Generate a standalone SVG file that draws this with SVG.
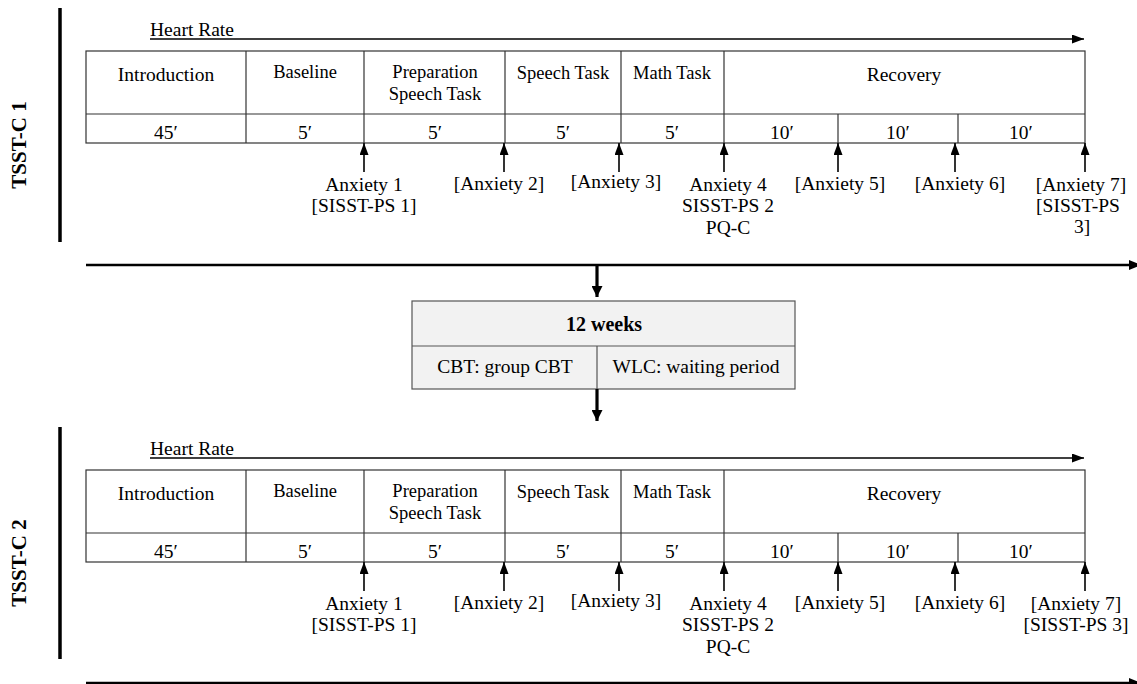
<svg xmlns="http://www.w3.org/2000/svg" width="1137" height="684" viewBox="0 0 1137 684">
<defs>
<style>
text{font-family:"Liberation Serif","Times New Roman",serif;fill:#000}
.l{font-size:19.5px}
.h{font-size:18.5px}
.t{text-anchor:middle}
.cell{fill:#fff;stroke:#333;stroke-width:1.2}
.div{stroke:#333;stroke-width:1.2}
.up{stroke:#000;stroke-width:1.6;marker-end:url(#ua)}
.hr{stroke:#000;stroke-width:1.4;fill:none;marker-end:url(#ha)}
.bar{stroke:#000;stroke-width:3.5}
.long{stroke:#000;stroke-width:2.5;marker-end:url(#la)}
.down{stroke:#000;stroke-width:3.2;marker-end:url(#da)}
.side{font-size:21px;font-weight:bold}
</style>
<marker id="ua" viewBox="0 0 10 10" refX="10" refY="5" markerWidth="12" markerHeight="9" orient="auto" markerUnits="userSpaceOnUse" preserveAspectRatio="none"><path d="M0,0L10,5L0,10z" fill="#000"/></marker>
<marker id="ha" viewBox="0 0 10 10" refX="10" refY="5" markerWidth="12" markerHeight="9" orient="auto" markerUnits="userSpaceOnUse" preserveAspectRatio="none"><path d="M0,0L10,5L0,10z" fill="#000"/></marker>
<marker id="la" viewBox="0 0 10 10" refX="10" refY="5" markerWidth="12" markerHeight="10" orient="auto" markerUnits="userSpaceOnUse" preserveAspectRatio="none"><path d="M0,0L10,5L0,10z" fill="#000"/></marker>
<marker id="da" viewBox="0 0 10 10" refX="10" refY="5" markerWidth="11" markerHeight="11" orient="auto" markerUnits="userSpaceOnUse" preserveAspectRatio="none"><path d="M0,0L10,5L0,10z" fill="#000"/></marker>
<g id="session">
<rect class="cell" x="86" y="51" width="999" height="92"/>
<line class="div" x1="86" y1="114" x2="1085" y2="114"/>
<line class="div" x1="246" y1="51" x2="246" y2="143"/>
<line class="div" x1="364" y1="51" x2="364" y2="143"/>
<line class="div" x1="505" y1="51" x2="505" y2="143"/>
<line class="div" x1="621" y1="51" x2="621" y2="143"/>
<line class="div" x1="724" y1="51" x2="724" y2="143"/>
<line class="div" x1="838" y1="114" x2="838" y2="143"/>
<line class="div" x1="958" y1="114" x2="958" y2="143"/>
<text class="l" x="150" y="36">Heart Rate</text>
<line class="hr" x1="150" y1="39" x2="1084" y2="39"/>
<text class="l t" x="166" y="81">Introduction</text>
<text class="h t" x="305" y="78">Baseline</text>
<text class="h t" x="435" y="78">Preparation</text>
<text class="h t" x="435" y="100">Speech Task</text>
<text class="h t" x="563" y="79">Speech Task</text>
<text class="h t" x="672" y="79">Math Task</text>
<text class="l t" x="904" y="81">Recovery</text>
<text class="l t" x="166" y="139">45′</text>
<text class="l t" x="305" y="139">5′</text>
<text class="l t" x="435" y="139">5′</text>
<text class="l t" x="563" y="139">5′</text>
<text class="l t" x="672" y="139">5′</text>
<text class="l t" x="782" y="139">10′</text>
<text class="l t" x="898" y="139">10′</text>
<text class="l t" x="1021" y="139">10′</text>
<line class="up" x1="364" y1="172" x2="364" y2="143"/>
<line class="up" x1="504" y1="172" x2="504" y2="143"/>
<line class="up" x1="619" y1="172" x2="619" y2="143"/>
<line class="up" x1="724" y1="172" x2="724" y2="143"/>
<line class="up" x1="838" y1="172" x2="838" y2="143"/>
<line class="up" x1="955" y1="172" x2="955" y2="143"/>
<line class="up" x1="1085" y1="172" x2="1085" y2="143"/>
<text class="l t" x="364" y="191">Anxiety 1</text>
<text class="l t" x="364" y="212">[SISST-PS 1]</text>
<text class="l t" x="499" y="190">[Anxiety 2]</text>
<text class="l t" x="616" y="188">[Anxiety 3]</text>
<text class="l t" x="728" y="191">Anxiety 4</text>
<text class="l t" x="728" y="212">SISST-PS 2</text>
<text class="l t" x="728" y="234">PQ-C</text>
<text class="l t" x="840" y="190">[Anxiety 5]</text>
<text class="l t" x="960" y="190">[Anxiety 6]</text>
</g>
</defs>

<g id="tsst-c-1">
<line class="bar" x1="60" y1="8" x2="60" y2="242"/>
<text class="side t" transform="translate(26,145) rotate(-90)">TSST-C 1</text>
<use href="#session"/>
<text class="l t" x="1081" y="191">[Anxiety 7]</text>
<text class="l t" x="1078" y="212">[SISST-PS</text>
<text class="l t" x="1082" y="233">3]</text>
</g>

<g id="tsst-c-2">
<line class="bar" x1="60" y1="427" x2="60" y2="659"/>
<text class="side t" transform="translate(26,563) rotate(-90)">TSST-C 2</text>
<use href="#session" y="419"/>
<text class="l t" x="1076" y="610">[Anxiety 7]</text>
<text class="l t" x="1076" y="631">[SISST-PS 3]</text>
</g>

<g id="intervention">
<rect x="412" y="301" width="383" height="88" fill="#f2f2f2" stroke="#555" stroke-width="1.2"/>
<line x1="412" y1="346" x2="795" y2="346" stroke="#555" stroke-width="1.2"/>
<line x1="597" y1="346" x2="597" y2="389" stroke="#555" stroke-width="1.2"/>
<text class="t" x="604" y="331" style="font-size:20px;font-weight:bold">12 weeks</text>
<text class="l t" x="505" y="373">CBT: group CBT</text>
<text class="l t" x="696" y="373">WLC: waiting period</text>
</g>

<g id="connectors">
<line class="long" x1="86" y1="265" x2="1141" y2="265"/>
<line class="long" x1="86" y1="683" x2="1141" y2="683"/>
<line class="down" x1="597" y1="266" x2="597" y2="297"/>
<line class="down" x1="597" y1="389" x2="597" y2="421"/>
</g>
</svg>
